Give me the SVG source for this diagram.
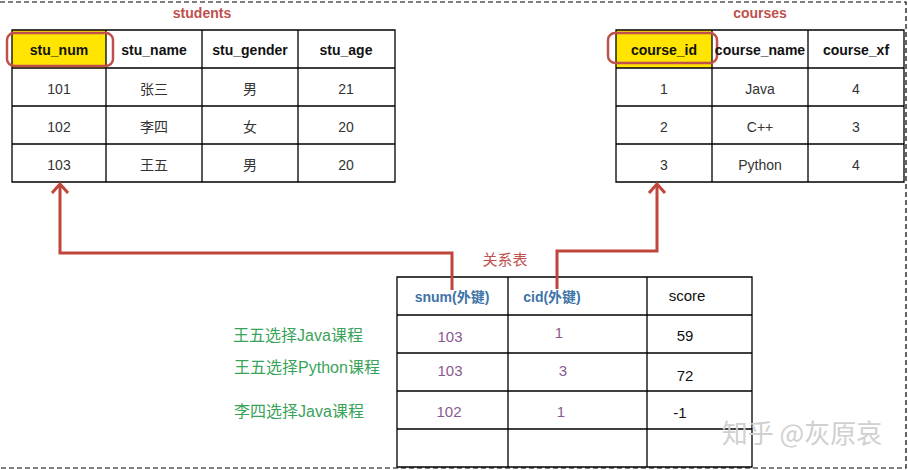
<svg xmlns="http://www.w3.org/2000/svg" width="908" height="470" viewBox="0 0 908 470">
<defs>
<style>
text{font-family:"Liberation Sans","Noto Sans CJK SC",sans-serif;text-anchor:middle}
.grid{stroke:#000;stroke-width:1.3;fill:none}
.hd{font-size:14px;fill:#111;font-weight:600}
.hdb{font-size:14px;fill:#111;font-weight:bold}
.d{font-size:14px;fill:#333}
.title{font-size:14px;fill:#c0504d;font-weight:bold}
.pk{fill:none;stroke:#c0504d;stroke-width:2.5}
.conn{fill:none;stroke:#c0453a;stroke-width:3}
.fk{font-size:14px;fill:#3e73a8;font-weight:600}
.pu{font-size:15px;fill:#8a5a8f}
.gr{font-size:16px;fill:#3aa35a}
.bd{fill:none;stroke:#000;stroke-width:1.2;stroke-dasharray:5,3}
</style>
</defs>
<rect width="908" height="470" fill="#fff"/>
<path class="bd" d="M0 2H906V468H0"/>

<g id="students">
<text class="title" x="202" y="18">students</text>
<rect x="12" y="30" width="94" height="38" fill="#ffe500"/>
<path class="grid" d="M12 30H395V182H12Z M12 68H395 M12 106H395 M12 144H395 M106 30V182 M202 30V182 M298 30V182"/>
<rect class="pk" x="7" y="33" width="106" height="33" rx="7"/>
<text class="hdb" x="59" y="55">stu_num</text>
<text class="hd" x="154" y="55">stu_name</text>
<text class="hd" x="250" y="55">stu_gender</text>
<text class="hd" x="346" y="55">stu_age</text>
<text class="d" x="59" y="94">101</text><text class="d" x="154" y="94">张三</text><text class="d" x="250" y="94">男</text><text class="d" x="346" y="94">21</text>
<text class="d" x="59" y="132">102</text><text class="d" x="154" y="132">李四</text><text class="d" x="250" y="132">女</text><text class="d" x="346" y="132">20</text>
<text class="d" x="59" y="170">103</text><text class="d" x="154" y="170">王五</text><text class="d" x="250" y="170">男</text><text class="d" x="346" y="170">20</text>
</g>

<g id="courses">
<text class="title" x="760" y="18">courses</text>
<rect x="616" y="30" width="96" height="38" fill="#ffe500"/>
<path class="grid" d="M616 30H904V182H616Z M616 68H904 M616 106H904 M616 144H904 M712 30V182 M808 30V182"/>
<rect class="pk" x="608" y="33" width="109" height="30" rx="7"/>
<text class="hdb" x="664" y="55">course_id</text>
<text class="hd" x="760" y="55">course_name</text>
<text class="hd" x="856" y="55">course_xf</text>
<text class="d" x="664" y="94">1</text><text class="d" x="760" y="94">Java</text><text class="d" x="856" y="94">4</text>
<text class="d" x="664" y="132">2</text><text class="d" x="760" y="132">C++</text><text class="d" x="856" y="132">3</text>
<text class="d" x="664" y="170">3</text><text class="d" x="760" y="170">Python</text><text class="d" x="856" y="170">4</text>
</g>

<g id="relation">
<text class="title" x="505" y="265" style="font-weight:normal;font-size:15px">关系表</text>
<path class="grid" d="M397 277H752V467H397Z M397 315H752 M397 353H752 M397 391H752 M397 429H752 M508 277V467 M647 277V467"/>
<text class="fk" x="452" y="302">snum(外键)</text>
<text class="fk" x="552" y="302">cid(外键)</text>
<text x="687" y="301" style="font-size:15px;fill:#111">score</text>
<text class="pu" x="450" y="342">103</text><text class="pu" x="559" y="338">1</text><text x="685" y="341" style="font-size:15px;fill:#111">59</text>
<text class="pu" x="450" y="376">103</text><text class="pu" x="563" y="376">3</text><text x="685" y="381" style="font-size:15px;fill:#111">72</text>
<text class="pu" x="449" y="417">102</text><text class="pu" x="561" y="417">1</text><text x="680" y="418" style="font-size:15px;fill:#111">-1</text>
</g>

<g id="labels">
<text class="gr" x="298" y="341">王五选择Java课程</text>
<text class="gr" x="307" y="373">王五选择Python课程</text>
<text class="gr" x="299" y="417">李四选择Java课程</text>
</g>

<g id="connectors">
<path class="conn" d="M452 290V253H60V184"/>
<path class="conn" d="M52 193L60 184L68 193"/>
<path class="conn" d="M557 289V251H657V184"/>
<path class="conn" d="M649 193L657 184L665 193"/>
</g>

<text x="802" y="443" style="font-size:26px;fill:#d0d0d0;font-family:'Noto Sans CJK SC',sans-serif">知乎 @灰原哀</text>
</svg>
